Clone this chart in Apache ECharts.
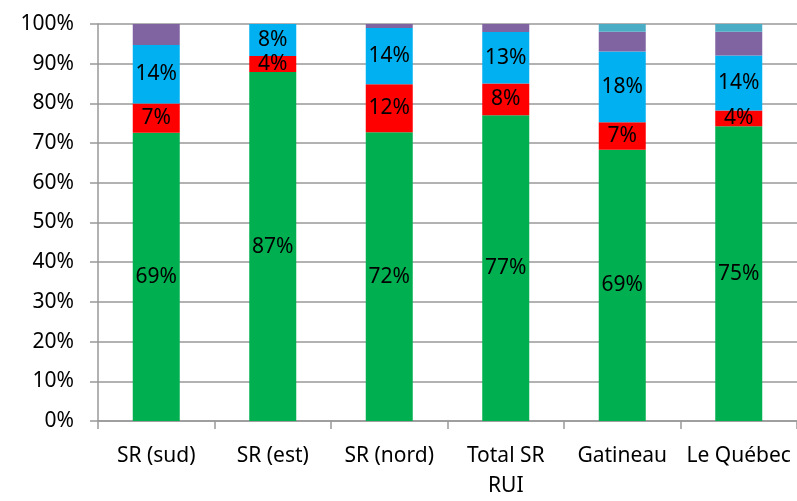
<!doctype html>
<html>
<head>
    <meta charset="utf-8">
    <title>Répartition</title>
    <script type="text/javascript" src="https://cdn.jsdelivr.net/npm/echarts@6/dist/echarts.min.js"></script>
    <style>
        html, body { margin: 0; padding: 0; background: #fff; }
        #container { width: 797px; height: 501px; }
    </style>
</head>
<body>
<div id="container"></div>
<script type="text/javascript">
    // valeurs brutes (chaque barre ramenée à 100%)
    var categories = ['SR (sud)', 'SR (est)', 'SR (nord)', 'Total SR\nRUI', 'Gatineau', 'Le Québec'];
    var vert   = [69, 87, 72, 77, 69, 75];
    var rouge  = [7, 4, 12, 8, 7, 4];
    var bleu   = [14, 8, 14, 13, 18, 14];
    var violet = [5, 0, 1, 2, 5, 6];
    var turq   = [0, 0, 0, 0, 2, 2];
    var yTicks = ['0%', '10%', '20%', '30%', '40%', '50%', '60%', '70%', '80%', '90%', '100%'];

    var font = "'Noto Sans', sans-serif";
    var all = [vert, rouge, bleu, violet, turq];
    var totals = categories.map(function (c, i) {
        var t = 0;
        all.forEach(function (s) { t += s[i]; });
        return t;
    });

    function pct(arr) {
        return arr.map(function (v, i) { return v / totals[i] * 100; });
    }

    function serie(name, arr, color, withLabel) {
        return {
            name: name,
            type: 'bar',
            stack: 'tot',
            barWidth: 47,
            data: pct(arr),
            itemStyle: { color: color },
            label: {
                show: withLabel,
                position: 'inside',
                color: '#000',
                fontSize: 21,
                fontFamily: font,
                formatter: function (p) { return arr[p.dataIndex] + '%'; }
            }
        };
    }

    var myChart = echarts.init(document.getElementById('container'));
    var option = {
        animation: false,
        grid: { left: 98, top: 24, right: -9, bottom: 77, containLabel: false },
        xAxis: {
            type: 'category',
            data: categories,
            axisLine: { lineStyle: { color: '#999', width: 1.5 } },
            axisTick: { show: true, length: 8, lineStyle: { color: '#999', width: 1.5 } },
            axisLabel: { color: '#000', fontSize: 21, fontFamily: font, margin: 20, interval: 0, lineHeight: 30 }
        },
        yAxis: {
            type: 'value',
            min: 0,
            max: 100,
            interval: 10,
            axisLine: { show: true, lineStyle: { color: '#999', width: 1.5 } },
            axisTick: { show: true, length: 8, lineStyle: { color: '#999', width: 1.5 } },
            splitLine: { lineStyle: { color: '#999', width: 1.5 } },
            axisLabel: {
                color: '#000', fontSize: 21, fontFamily: font, margin: 24,
                formatter: function (v) { return yTicks[Math.round(v / 10)]; }
            }
        },
        series: [
            serie('vert', vert, '#00B050', true),
            serie('rouge', rouge, '#FF0000', true),
            serie('bleu', bleu, '#00B0F0', true),
            serie('violet', violet, '#8064A2', false),
            serie('turquoise', turq, '#4BACC6', false)
        ]
    };
    myChart.setOption(option, true);
</script>
</body>
</html>
